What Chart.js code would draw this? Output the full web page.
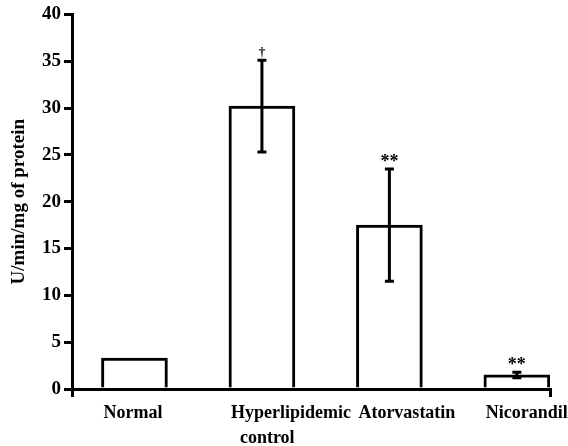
<!DOCTYPE html>
<html>
<head>
<meta charset="utf-8">
<script src="https://cdn.jsdelivr.net/npm/chart.js@4.4.0/dist/chart.umd.min.js"></script>
<style>
html,body{margin:0;padding:0;background:#fff;overflow:hidden;}
#wrap{width:568px;height:446px;position:relative;}
</style>
</head>
<body>
<div id="wrap"><canvas id="c" width="568" height="446"></canvas></div>
<script>
const categories = ['Normal', ['Hyperlipidemic', '  control'], 'Atorvastatin', 'Nicorandil'];
const values = [3.3, 30.2, 17.5, 1.5];
const errors = [0, 4.9, 6.0, 0.3];
const markers = ['', '\u2020', '**', '**'];
const yTicks = [0, 5, 10, 15, 20, 25, 30, 35, 40];
const yTitle = 'U/min/mg of protein';

const X_MIN = -0.49, X_MAX = 3.26;
const FONT = '"Liberation Serif", "Times New Roman", serif';

const errorBarPlugin = {
  id: 'errorBars',
  afterDatasetsDraw(chart) {
    const ctx = chart.ctx;
    const xs = chart.scales.x, ys = chart.scales.y;
    ctx.save();
    ctx.strokeStyle = '#000';
    ctx.fillStyle = '#000';
    ctx.lineWidth = 3;
    values.forEach((v, i) => {
      const e = errors[i];
      const x = xs.getPixelForValue(i);
      let topPix = ys.getPixelForValue(v);
      if (e > 0) {
        const yt = ys.getPixelForValue(v + e);
        const yb = ys.getPixelForValue(v - e);
        ctx.beginPath();
        ctx.moveTo(x, yt); ctx.lineTo(x, yb);
        ctx.moveTo(x - 4.5, yt); ctx.lineTo(x + 4.5, yt);
        ctx.moveTo(x - 4.5, yb); ctx.lineTo(x + 4.5, yb);
        ctx.stroke();
        topPix = yt;
      }
      const m = markers[i];
      if (m) {
        ctx.textAlign = 'center';
        if (m === '**') {
          ctx.font = 'bold 18px ' + FONT;
          ctx.textBaseline = 'alphabetic';
          ctx.fillText(m, x, topPix - 2);
        } else {
          ctx.font = 'bold 13px ' + FONT;
          ctx.textBaseline = 'bottom';
          ctx.fillText(m, x, topPix - 1);
        }
      }
    });
    ctx.restore();
  }
};

new Chart(document.getElementById('c'), {
  type: 'bar',
  data: {
    datasets: [{
      data: values.map((v, i) => ({x: i, y: v})),
      backgroundColor: '#fff',
      borderColor: '#000',
      borderWidth: 3,
      borderSkipped: 'start',
      barThickness: 66
    }]
  },
  options: {
    responsive: false,
    animation: false,
    devicePixelRatio: 1,
    layout: {padding: {top: 14, right: 18, left: 0, bottom: 0}},
    plugins: {legend: {display: false}, tooltip: {enabled: false}},
    scales: {
      x: {
        type: 'linear',
        offset: false,
        min: X_MIN,
        max: X_MAX,
        afterBuildTicks(scale) {
          scale.ticks = [X_MIN, 0, 1, 2, 3, X_MAX].map(v => ({value: v}));
        },
        afterFit(scale) { scale.height = 57; },
        border: {display: true, color: '#000', width: 3},
        grid: {
          offset: false,
          drawOnChartArea: false,
          drawTicks: true,
          tickLength: 8,
          lineWidth: 3,
          color: (c) => (c.tick && Number.isInteger(c.tick.value)) ? 'rgba(0,0,0,0)' : '#000'
        },
        ticks: {
          autoSkip: false,
          maxRotation: 0,
          minRotation: 0,
          align: 'start',
          labelOffset: -31,
          padding: 4,
          color: '#000',
          font: {family: FONT, size: 18, weight: 'bold', lineHeight: 1.4},
          callback: (v) => Number.isInteger(v) && categories[v] !== undefined ? categories[v] : ''
        }
      },
      y: {
        min: 0,
        max: 40,
        afterBuildTicks(scale) {
          scale.ticks = yTicks.map(v => ({value: v}));
        },
        afterFit(scale) { scale.width = 72; },
        border: {display: true, color: '#000', width: 3},
        grid: {drawOnChartArea: false, drawTicks: true, tickLength: 8, lineWidth: 3, color: '#000'},
        ticks: {
          padding: 3,
          color: '#000',
          font: {family: FONT, size: 19, weight: 'bold'}
        },
        title: {
          display: true,
          text: yTitle,
          color: '#000',
          padding: {top: 8, bottom: 0},
          font: {family: FONT, size: 19, weight: 'bold'}
        }
      }
    }
  },
  plugins: [errorBarPlugin]
});
</script>
</body>
</html>
